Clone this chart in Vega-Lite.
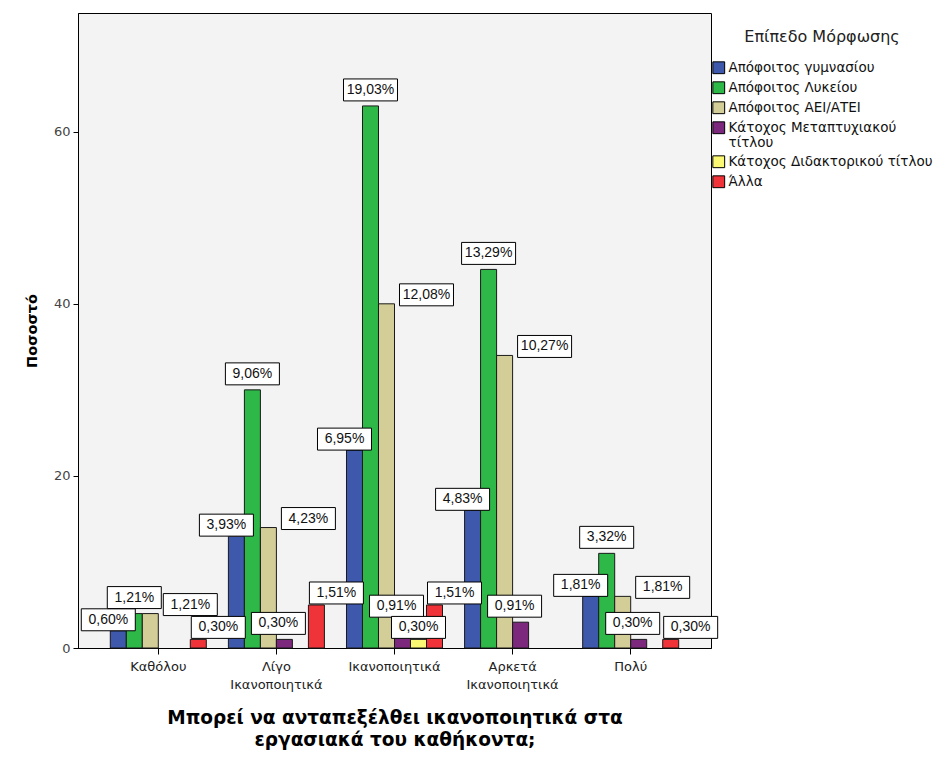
{
  "$schema": "https://vega.github.io/schema/vega-lite/v6.json",
  "width": 633,
  "height": 635,
  "autosize": {"type": "none"},
  "padding": {"left": 78, "top": 13, "right": 235, "bottom": 109},
  "background": "white",
  "config": {
    "font": "DejaVu Sans",
    "view": {"fill": "#F3F3F3", "stroke": "#000000", "strokeWidth": 1},
    "locale": {"number": {"decimal": ",", "thousands": ".", "grouping": [3], "currency": ["", " €"]}}
  },
  "data": {
    "values": [
      {"cat": "Καθόλου", "edu": "Απόφοιτος γυμνασίου", "count": 2, "share": 0.0060},
      {"cat": "Καθόλου", "edu": "Απόφοιτος Λυκείου", "count": 4, "share": 0.0121},
      {"cat": "Καθόλου", "edu": "Απόφοιτος ΑΕΙ/ΑΤΕΙ", "count": 4, "share": 0.0121},
      {"cat": "Καθόλου", "edu": "Άλλα", "count": 1, "share": 0.0030},
      {"cat": "Λίγο Ικανοποιητικά", "edu": "Απόφοιτος γυμνασίου", "count": 13, "share": 0.0393},
      {"cat": "Λίγο Ικανοποιητικά", "edu": "Απόφοιτος Λυκείου", "count": 30, "share": 0.0906},
      {"cat": "Λίγο Ικανοποιητικά", "edu": "Απόφοιτος ΑΕΙ/ΑΤΕΙ", "count": 14, "share": 0.0423},
      {"cat": "Λίγο Ικανοποιητικά", "edu": "Κάτοχος Μεταπτυχιακού τίτλου", "count": 1, "share": 0.0030},
      {"cat": "Λίγο Ικανοποιητικά", "edu": "Άλλα", "count": 5, "share": 0.0151},
      {"cat": "Ικανοποιητικά", "edu": "Απόφοιτος γυμνασίου", "count": 23, "share": 0.0695},
      {"cat": "Ικανοποιητικά", "edu": "Απόφοιτος Λυκείου", "count": 63, "share": 0.1903},
      {"cat": "Ικανοποιητικά", "edu": "Απόφοιτος ΑΕΙ/ΑΤΕΙ", "count": 40, "share": 0.1208},
      {"cat": "Ικανοποιητικά", "edu": "Κάτοχος Μεταπτυχιακού τίτλου", "count": 3, "share": 0.0091},
      {"cat": "Ικανοποιητικά", "edu": "Κάτοχος Διδακτορικού τίτλου", "count": 1, "share": 0.0030},
      {"cat": "Ικανοποιητικά", "edu": "Άλλα", "count": 5, "share": 0.0151},
      {"cat": "Αρκετά Ικανοποιητικά", "edu": "Απόφοιτος γυμνασίου", "count": 16, "share": 0.0483},
      {"cat": "Αρκετά Ικανοποιητικά", "edu": "Απόφοιτος Λυκείου", "count": 44, "share": 0.1329},
      {"cat": "Αρκετά Ικανοποιητικά", "edu": "Απόφοιτος ΑΕΙ/ΑΤΕΙ", "count": 34, "share": 0.1027},
      {"cat": "Αρκετά Ικανοποιητικά", "edu": "Κάτοχος Μεταπτυχιακού τίτλου", "count": 3, "share": 0.0091},
      {"cat": "Πολύ", "edu": "Απόφοιτος γυμνασίου", "count": 6, "share": 0.0181},
      {"cat": "Πολύ", "edu": "Απόφοιτος Λυκείου", "count": 11, "share": 0.0332},
      {"cat": "Πολύ", "edu": "Απόφοιτος ΑΕΙ/ΑΤΕΙ", "count": 6, "share": 0.0181},
      {"cat": "Πολύ", "edu": "Κάτοχος Μεταπτυχιακού τίτλου", "count": 1, "share": 0.0030},
      {"cat": "Πολύ", "edu": "Άλλα", "count": 1, "share": 0.0030}
    ]
  },
  "layer": [
    {
      "mark": {"type": "bar", "stroke": "#1a1a1a", "strokeWidth": 1},
      "encoding": {
        "x": {
          "field": "cat", "type": "nominal",
          "sort": ["Καθόλου", "Λίγο Ικανοποιητικά", "Ικανοποιητικά", "Αρκετά Ικανοποιητικά", "Πολύ"],
          "scale": {"paddingInner": 0, "paddingOuter": 0.18},
          "axis": {
            "title": ["Μπορεί να ανταπεξέλθει ικανοποιητικά στα", "εργασιακά του καθήκοντα;"],
            "titleFont": "DejaVu Sans", "titleFontSize": 18.5, "titleFontWeight": "bold", "titleColor": "#000000", "titleLineHeight": 22, "titlePadding": 17,
            "labelExpr": "split(datum.value, ' ')", "labelAngle": 0, "labelFontSize": 13, "labelColor": "#222222", "labelLineHeight": 18, "labelPadding": 6,
            "tickColor": "#000000", "tickSize": 6, "domainColor": "#000000"
          }
        },
        "xOffset": {
          "field": "edu", "type": "nominal",
          "sort": ["Απόφοιτος γυμνασίου", "Απόφοιτος Λυκείου", "Απόφοιτος ΑΕΙ/ΑΤΕΙ", "Κάτοχος Μεταπτυχιακού τίτλου", "Κάτοχος Διδακτορικού τίτλου", "Άλλα"],
          "scale": {"paddingInner": 0, "paddingOuter": 0.69}
        },
        "y": {
          "field": "count", "type": "quantitative",
          "scale": {"domain": [0, 73.8], "nice": false},
          "axis": {
            "title": "Ποσοστό", "titleFontSize": 14.5, "titleFontWeight": "bold", "titleColor": "#000000", "titlePadding": 14,
            "values": [0, 20, 40, 60], "grid": false, "labelFontSize": 13, "labelColor": "#444444", "labelPadding": 3,
            "tickColor": "#000000", "tickSize": 5, "domainColor": "#000000"
          }
        },
        "color": {
          "field": "edu", "type": "nominal",
          "scale": {
            "domain": ["Απόφοιτος γυμνασίου", "Απόφοιτος Λυκείου", "Απόφοιτος ΑΕΙ/ΑΤΕΙ", "Κάτοχος Μεταπτυχιακού τίτλου", "Κάτοχος Διδακτορικού τίτλου", "Άλλα"],
            "range": ["#3E58AC", "#2EB848", "#D3CE97", "#7C287D", "#FBF873", "#EF3338"]
          },
          "legend": {
            "title": "Επίπεδο Μόρφωσης", "orient": "none", "legendX": 634, "legendY": 16,
            "titleFontSize": 16, "titleFontWeight": "normal", "titleColor": "#222222", "titleAnchor": "middle", "titlePadding": 16,
            "labelFontSize": 13.5, "labelColor": "#111111", "labelLimit": 300, "labelOffset": 3, "labelLineHeight": 15,
            "labelExpr": "datum.value === 'Κάτοχος Μεταπτυχιακού τίτλου' ? ['Κάτοχος Μεταπτυχιακού', 'τίτλου'] : datum.value",
            "symbolType": "square", "symbolSize": 140, "symbolStrokeColor": "#000000", "symbolStrokeWidth": 1, "symbolOpacity": 1,
            "rowPadding": 3, "padding": 0
          }
        }
      }
    },
    {
      "transform": [{"filter": "datum.edu === 'Απόφοιτος γυμνασίου'"}],
      "encoding": {
        "x": {"field": "cat", "type": "nominal", "bandPosition": 0.1612, "sort": ["Καθόλου", "Λίγο Ικανοποιητικά", "Ικανοποιητικά", "Αρκετά Ικανοποιητικά", "Πολύ"]},
        "y": {"field": "count", "type": "quantitative"}
      },
      "layer": [
        {"mark": {"type": "point", "shape": "M -1 -0.407 L 1 -0.407 L 1 0.407 L -1 0.407 Z", "size": 2916, "filled": true, "fill": "#FFFFFF", "stroke": "#000000", "strokeWidth": 1, "opacity": 1, "xOffset": -10, "yOffset": -11}},
        {"mark": {"type": "text", "font": "Liberation Sans", "fontSize": 14, "color": "#111111", "align": "center", "baseline": "middle", "xOffset": -10, "yOffset": -11},
         "encoding": {"text": {"field": "share", "type": "quantitative", "format": ".2%"}}}
      ]
    },
    {
      "transform": [{"filter": "datum.edu === 'Απόφοιτος Λυκείου'"}],
      "encoding": {
        "x": {"field": "cat", "type": "nominal", "bandPosition": 0.2967, "sort": ["Καθόλου", "Λίγο Ικανοποιητικά", "Ικανοποιητικά", "Αρκετά Ικανοποιητικά", "Πολύ"]},
        "y": {"field": "count", "type": "quantitative"}
      },
      "layer": [
        {"mark": {"type": "point", "shape": "M -1 -0.407 L 1 -0.407 L 1 0.407 L -1 0.407 Z", "size": 2916, "filled": true, "fill": "#FFFFFF", "stroke": "#000000", "strokeWidth": 1, "opacity": 1, "xOffset": 0, "yOffset": -16}},
        {"mark": {"type": "text", "font": "Liberation Sans", "fontSize": 14, "color": "#111111", "align": "center", "baseline": "middle", "xOffset": 0, "yOffset": -16},
         "encoding": {"text": {"field": "share", "type": "quantitative", "format": ".2%"}}}
      ]
    },
    {
      "transform": [{"filter": "datum.edu === 'Απόφοιτος ΑΕΙ/ΑΤΕΙ'"}],
      "encoding": {
        "x": {"field": "cat", "type": "nominal", "bandPosition": 0.4322, "sort": ["Καθόλου", "Λίγο Ικανοποιητικά", "Ικανοποιητικά", "Αρκετά Ικανοποιητικά", "Πολύ"]},
        "y": {"field": "count", "type": "quantitative"}
      },
      "layer": [
        {"mark": {"type": "point", "shape": "M -1 -0.407 L 1 -0.407 L 1 0.407 L -1 0.407 Z", "size": 2916, "filled": true, "fill": "#FFFFFF", "stroke": "#000000", "strokeWidth": 1, "opacity": 1, "xOffset": 40, "yOffset": -9}},
        {"mark": {"type": "text", "font": "Liberation Sans", "fontSize": 14, "color": "#111111", "align": "center", "baseline": "middle", "xOffset": 40, "yOffset": -9},
         "encoding": {"text": {"field": "share", "type": "quantitative", "format": ".2%"}}}
      ]
    },
    {
      "transform": [{"filter": "datum.edu === 'Κάτοχος Μεταπτυχιακού τίτλου'"}],
      "encoding": {
        "x": {"field": "cat", "type": "nominal", "bandPosition": 0.5677, "sort": ["Καθόλου", "Λίγο Ικανοποιητικά", "Ικανοποιητικά", "Αρκετά Ικανοποιητικά", "Πολύ"]},
        "y": {"field": "count", "type": "quantitative"}
      },
      "layer": [
        {"mark": {"type": "point", "shape": "M -1 -0.407 L 1 -0.407 L 1 0.407 L -1 0.407 Z", "size": 2916, "filled": true, "fill": "#FFFFFF", "stroke": "#000000", "strokeWidth": 1, "opacity": 1, "xOffset": -6, "yOffset": -16}},
        {"mark": {"type": "text", "font": "Liberation Sans", "fontSize": 14, "color": "#111111", "align": "center", "baseline": "middle", "xOffset": -6, "yOffset": -16},
         "encoding": {"text": {"field": "share", "type": "quantitative", "format": ".2%"}}}
      ]
    },
    {
      "transform": [{"filter": "datum.edu === 'Κάτοχος Διδακτορικού τίτλου'"}],
      "encoding": {
        "x": {"field": "cat", "type": "nominal", "bandPosition": 0.7031, "sort": ["Καθόλου", "Λίγο Ικανοποιητικά", "Ικανοποιητικά", "Αρκετά Ικανοποιητικά", "Πολύ"]},
        "y": {"field": "count", "type": "quantitative"}
      },
      "layer": [
        {"mark": {"type": "point", "shape": "M -1 -0.407 L 1 -0.407 L 1 0.407 L -1 0.407 Z", "size": 2916, "filled": true, "fill": "#FFFFFF", "stroke": "#000000", "strokeWidth": 1, "opacity": 1, "xOffset": 0, "yOffset": -12}},
        {"mark": {"type": "text", "font": "Liberation Sans", "fontSize": 14, "color": "#111111", "align": "center", "baseline": "middle", "xOffset": 0, "yOffset": -12},
         "encoding": {"text": {"field": "share", "type": "quantitative", "format": ".2%"}}}
      ]
    },
    {
      "transform": [{"filter": "datum.edu === 'Άλλα'"}],
      "encoding": {
        "x": {"field": "cat", "type": "nominal", "bandPosition": 0.8386, "sort": ["Καθόλου", "Λίγο Ικανοποιητικά", "Ικανοποιητικά", "Αρκετά Ικανοποιητικά", "Πολύ"]},
        "y": {"field": "count", "type": "quantitative"}
      },
      "layer": [
        {"mark": {"type": "point", "shape": "M -1 -0.407 L 1 -0.407 L 1 0.407 L -1 0.407 Z", "size": 2916, "filled": true, "fill": "#FFFFFF", "stroke": "#000000", "strokeWidth": 1, "opacity": 1, "xOffset": 20, "yOffset": -12}},
        {"mark": {"type": "text", "font": "Liberation Sans", "fontSize": 14, "color": "#111111", "align": "center", "baseline": "middle", "xOffset": 20, "yOffset": -12},
         "encoding": {"text": {"field": "share", "type": "quantitative", "format": ".2%"}}}
      ]
    }
  ]
}
